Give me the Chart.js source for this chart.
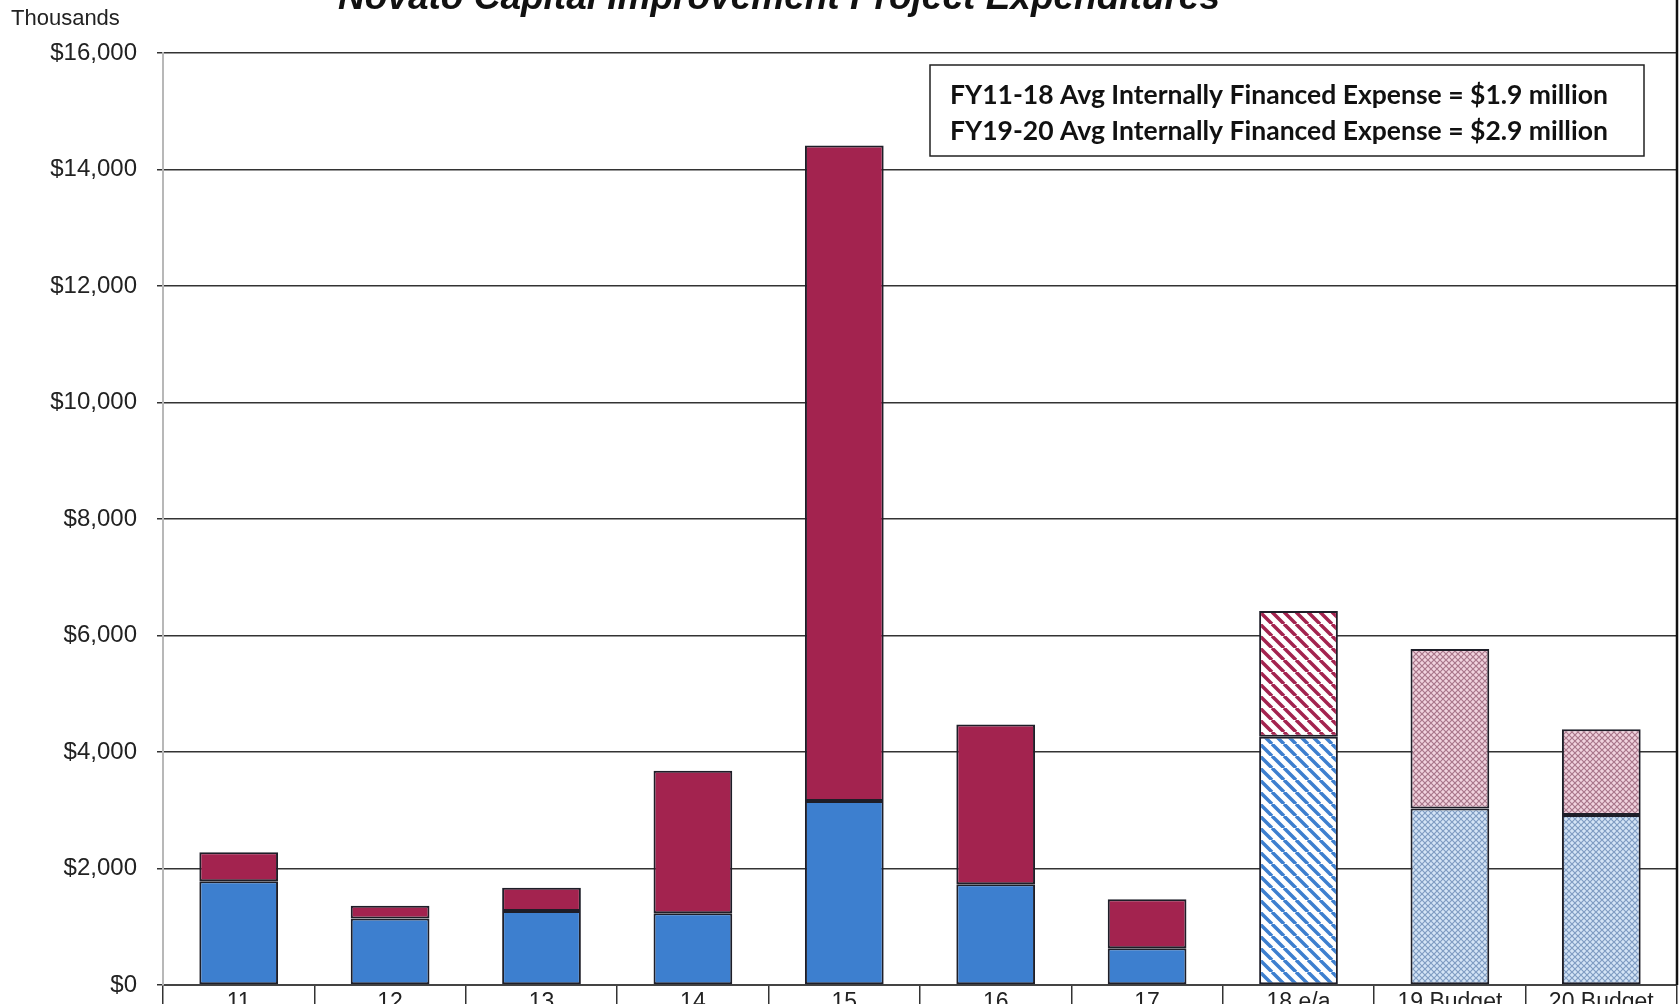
<!DOCTYPE html>
<html>
<head>
<meta charset="utf-8">
<script src="https://cdn.jsdelivr.net/npm/chart.js@4.4.1/dist/chart.umd.min.js"></script>
<style>
  html, body { margin: 0; padding: 0; background: #fff; }
</style>
</head>
<body>
<canvas id="cipChart" width="1680" height="1004"></canvas>
<script>
// Fiscal years (thousands of $)
const categories = ['11', '12', '13', '14', '15', '16', '17', '18 e/a', '19 Budget', '20 Budget'];
const internalSpend = [1780, 1140, 1270, 1230, 3160, 1730, 630, 4260, 3030, 2920];
const otherSpend = [500, 220, 400, 2450, 11250, 2740, 840, 2160, 2740, 1470];
const yTicks = [0, 2000, 4000, 6000, 8000, 10000, 12000, 14000, 16000];
const noteLines = [
    'FY11-18 Avg Internally Financed Expense = $1.9 million',
    'FY19-20 Avg Internally Financed Expense = $2.9 million'
];
const chartTitle = 'Novato Capital Improvement Project Expenditures';

const BLUE = '#3d7fcf';
const RED = '#a3234f';

// hatch pattern helpers
function stripePattern(color) {
    const c = document.createElement('canvas');
    c.width = 12; c.height = 12;
    const g = c.getContext('2d');
    g.fillStyle = '#fff';
    g.fillRect(0, 0, 12, 12);
    g.strokeStyle = color;
    g.lineWidth = 3.5;
    g.beginPath();
    for (let k = -12; k <= 12; k += 12) {
        g.moveTo(k, 0);
        g.lineTo(k + 12, 12);
    }
    g.stroke();
    return g.createPattern(c, 'repeat');
}

function crossPattern(base, line) {
    const c = document.createElement('canvas');
    c.width = 6; c.height = 6;
    const g = c.getContext('2d');
    g.fillStyle = base;
    g.fillRect(0, 0, 6, 6);
    g.strokeStyle = line;
    g.lineWidth = 1.2;
    g.beginPath();
    g.moveTo(0, 0); g.lineTo(6, 6);
    g.moveTo(6, 0); g.lineTo(0, 6);
    g.stroke();
    return g.createPattern(c, 'repeat');
}

const blueStripe = stripePattern(BLUE);
const redStripe = stripePattern(RED);
const blueCross = crossPattern('#d4e4f6', '#7f9cc2');
const redCross = crossPattern('#f1d3de', '#a8768a');

function fills(solid, stripe, cross) {
    return categories.map(c => {
        if (c.indexOf('e/a') > -1) return stripe;
        if (c.indexOf('Budget') > -1) return cross;
        return solid;
    });
}

// title, "Thousands", note box and right frame
const decorations = {
    id: 'decorations',
    afterDraw(chart) {
        const ctx = chart.ctx;
        const area = chart.chartArea;
        ctx.save();

        ctx.strokeStyle = '#111';
        ctx.lineWidth = 2.5;
        ctx.beginPath();
        ctx.moveTo(area.right, 0);
        ctx.lineTo(area.right, area.bottom);
        ctx.stroke();

        ctx.fillStyle = '#111';
        ctx.font = 'italic bold 37px "Liberation Sans", Arial, sans-serif';
        ctx.textAlign = 'center';
        ctx.textBaseline = 'alphabetic';
        ctx.fillText(chartTitle, 779, 9);

        ctx.fillStyle = '#222';
        ctx.font = '22px "Liberation Sans", Arial, sans-serif';
        ctx.textAlign = 'left';
        ctx.fillText('Thousands', 11, 25);

        ctx.fillStyle = '#fff';
        ctx.fillRect(930, 65, 714, 91);
        ctx.strokeStyle = '#222';
        ctx.lineWidth = 1.5;
        ctx.strokeRect(930, 65, 714, 91);

        ctx.fillStyle = '#111';
        ctx.font = 'bold 26.5px Lato, "Open Sans", sans-serif';
        ctx.textBaseline = 'middle';
        noteLines.forEach((t, i) => ctx.fillText(t, 950, 95 + i * 36));

        ctx.restore();
    }
};

const ctx = document.getElementById('cipChart');
new Chart(ctx, {
    type: 'bar',
    data: {
        labels: categories,
        datasets: [{
            label: 'Internally Financed',
            data: internalSpend,
            backgroundColor: fills(BLUE, blueStripe, blueCross),
            borderColor: '#1e1e28',
            borderWidth: 2,
            borderSkipped: false,
            barPercentage: 0.52,
            categoryPercentage: 1
        }, {
            label: 'Other',
            data: otherSpend,
            backgroundColor: fills(RED, redStripe, redCross),
            borderColor: '#1e1e28',
            borderWidth: 2,
            borderSkipped: false,
            barPercentage: 0.52,
            categoryPercentage: 1
        }]
    },
    options: {
        responsive: false,
        animation: false,
        layout: { padding: { top: 53, right: 3, left: 0, bottom: 0 } },
        plugins: {
            legend: { display: false },
            title: { display: false },
            tooltip: { enabled: false }
        },
        scales: {
            x: {
                stacked: true,
                grid: {
                    offset: true,
                    drawOnChartArea: false,
                    color: '#333',
                    lineWidth: 1.5,
                    tickLength: 20
                },
                border: { color: '#444', width: 2 },
                ticks: {
                    color: '#222',
                    padding: -16,
                    maxRotation: 0,
                    font: { family: '"Liberation Sans", Arial, sans-serif', size: 23 }
                },
                afterFit(scale) { scale.height = 19; }
            },
            y: {
                stacked: true,
                min: 0,
                max: 16000,
                afterBuildTicks(scale) {
                    scale.ticks = yTicks.map(v => ({ value: v }));
                },
                grid: {
                    color: '#333',
                    lineWidth: 1.5,
                    tickLength: 6
                },
                border: { color: '#b8b8b8', width: 2 },
                ticks: {
                    color: '#222',
                    padding: 20,
                    font: { family: '"Liberation Sans", Arial, sans-serif', size: 24 },
                    callback: v => '$' + Number(v).toLocaleString('en-US')
                },
                afterFit(scale) {
                    scale.width = 163;
                    // tick padding would otherwise push the plot area up
                    scale.paddingTop = 0;
                    scale.paddingBottom = 0;
                }
            }
        }
    },
    plugins: [decorations]
});
</script>
</body>
</html>
